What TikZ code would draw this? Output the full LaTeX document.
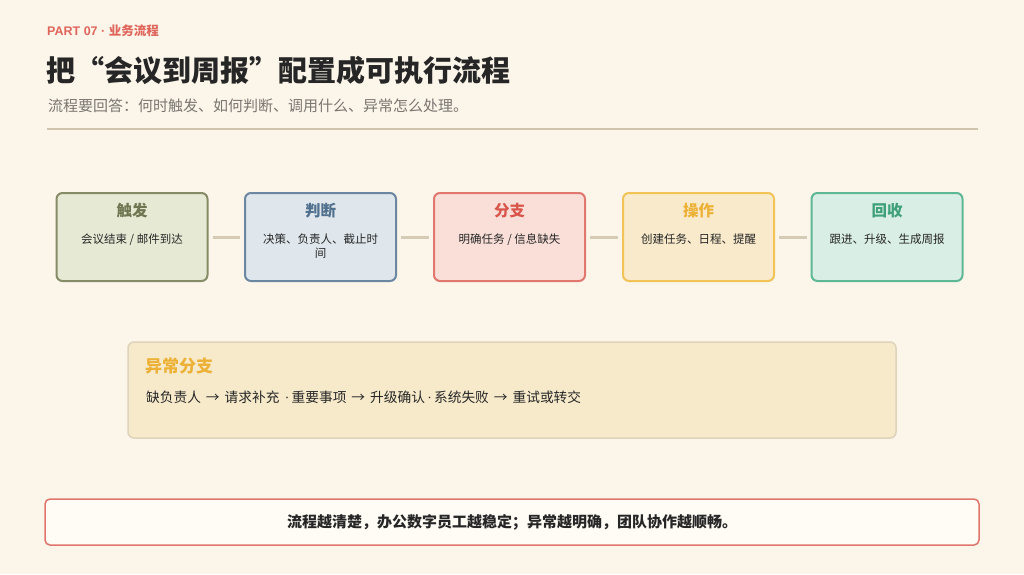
\documentclass[tikz,border=0pt]{standalone}
\usepackage{fontspec}
\setmainfont{Noto Sans CJK SC}
\newfontfamily\latinsans{Liberation Sans}
\newfontfamily\latinserif{Liberation Serif}
\usetikzlibrary{positioning}

\definecolor{pagebg}{HTML}{FBF5EA}
\definecolor{partred}{HTML}{E0655B}
\definecolor{inkdark}{HTML}{262626}
\definecolor{inkgray}{HTML}{7A7670}
\definecolor{rulebeige}{HTML}{CFC4AE}
\definecolor{linkbeige}{HTML}{D6CBB4}
% stage colours: border, fill, title
\definecolor{trigB}{HTML}{868C68}\definecolor{trigF}{HTML}{E6EAD4}\definecolor{trigT}{HTML}{6F7651}
\definecolor{judgB}{HTML}{6B87A1}\definecolor{judgF}{HTML}{DFE7EC}\definecolor{judgT}{HTML}{50708E}
\definecolor{brchB}{HTML}{E07870}\definecolor{brchF}{HTML}{F9DFD7}\definecolor{brchT}{HTML}{D9554C}
\definecolor{operB}{HTML}{F2C356}\definecolor{operF}{HTML}{F8EACB}\definecolor{operT}{HTML}{ECB136}
\definecolor{backB}{HTML}{5FB895}\definecolor{backF}{HTML}{D9EEE5}\definecolor{backT}{HTML}{3FA07A}
\definecolor{excF}{HTML}{F6EACB}\definecolor{excB}{HTML}{DED3BB}
\definecolor{noteF}{HTML}{FFFCF6}\definecolor{noteB}{HTML}{E0756D}

\newcommand{\sdot}{{\latinserif\,·\,}}
\newcommand{\sarr}{\hspace{5pt}→\hspace{5pt}}

\tikzset{
  stage/.style 2 args={draw=#1, fill=#2, rounded corners=6pt, line width=2pt,
    minimum width=151pt, minimum height=88pt, inner sep=0pt},
  stagetitle/.style={font=\fontsize{15.5}{18}\selectfont\bfseries, inner sep=0pt},
  stagetext/.style={font=\fontsize{11.5}{14}\selectfont, text=inkdark, align=center, inner sep=0pt, anchor=north},
  link/.style={draw=linkbeige, line width=3pt, shorten >=4pt, shorten <=4pt},
}

\begin{document}
\begin{tikzpicture}[x=1pt, y=-1pt]
  \fill[pagebg] (0,0) rectangle (1024,574);
  \useasboundingbox (0,0) rectangle (1024,574);

  % header
  \node[anchor=west, inner sep=0pt, text=partred, font=\fontsize{12.5}{15}\selectfont\bfseries] (part) at (47,30.5) {{\latinsans PART 07 · }业务流程};
  \node[anchor=west, inner sep=0pt, text=inkdark, font=\fontsize{29}{35}\selectfont\bfseries] (title) at (46,70) {把“会议到周报”配置成可执行流程};
  \node[anchor=west, inner sep=0pt, text=inkgray, font=\fontsize{15}{18}\selectfont] (sub) at (48,106) {流程要回答：何时触发、如何判断、调用什么、异常怎么处理。};
  \coordinate (rl) at (47,129);
  \coordinate (rr) at (978,129);
  \draw[rulebeige, line width=2pt] (rl) -- (rr);

  % stages
  \node[stage={trigB}{trigF}] (trig) at (132,237) {};
  \node[stage={judgB}{judgF}] (judg) at (320.5,237) {};
  \node[stage={brchB}{brchF}] (brch) at (509.5,237) {};
  \node[stage={operB}{operF}] (oper) at (698.5,237) {};
  \node[stage={backB}{backF}] (back) at (887,237) {};

  \node[stagetitle, text=trigT] (trigt) at ([yshift=-19pt]trig.north) {触发};
  \node[stagetitle, text=judgT] (judgt) at ([yshift=-19pt]judg.north) {判断};
  \node[stagetitle, text=brchT] (brcht) at ([yshift=-19pt]brch.north) {分支};
  \node[stagetitle, text=operT] (opert) at ([yshift=-19pt]oper.north) {操作};
  \node[stagetitle, text=backT] (backt) at ([yshift=-19pt]back.north) {回收};

  \node[stagetext] (trigd) at ([yshift=-42pt]trig.north) {会议结束 / 邮件到达};
  \node[stagetext] (judgd) at ([yshift=-42pt]judg.north) {决策、负责人、截止时\\间};
  \node[stagetext] (brchd) at ([yshift=-42pt]brch.north) {明确任务 / 信息缺失};
  \node[stagetext] (operd) at ([yshift=-42pt]oper.north) {创建任务、日程、提醒};
  \node[stagetext] (backd) at ([yshift=-42pt]back.north) {跟进、升级、生成周报};

  \draw[link] (trig) -- (judg);
  \draw[link] (judg) -- (brch);
  \draw[link] (brch) -- (oper);
  \draw[link] (oper) -- (back);

  % exception branch
  \node[draw=excB, fill=excF, rounded corners=6pt, line width=1.5pt, minimum width=768pt, minimum height=96pt] (exc) at (512,390) {};
  \node[anchor=west, inner sep=0pt, text=operT, font=\fontsize{17}{20}\selectfont\bfseries] (exct) at (145,366) {异常分支};
  \node[anchor=west, inner sep=0pt, text=inkdark, font=\fontsize{13.7}{16}\selectfont] (excd) at (146,397)
    {缺负责人\sarr 请求补充\ \sdot 重要事项\sarr 升级确认\sdot 系统失败\sarr 重试或转交};

  % closing note
  \node[draw=noteB, fill=noteF, rounded corners=5pt, line width=1.5pt, minimum width=934pt, minimum height=46pt,
    text=inkdark, font=\fontsize{15}{18}\selectfont\bfseries] (note) at (512,522) {流程越清楚，办公数字员工越稳定；异常越明确，团队协作越顺畅。};
\end{tikzpicture}
\end{document}
